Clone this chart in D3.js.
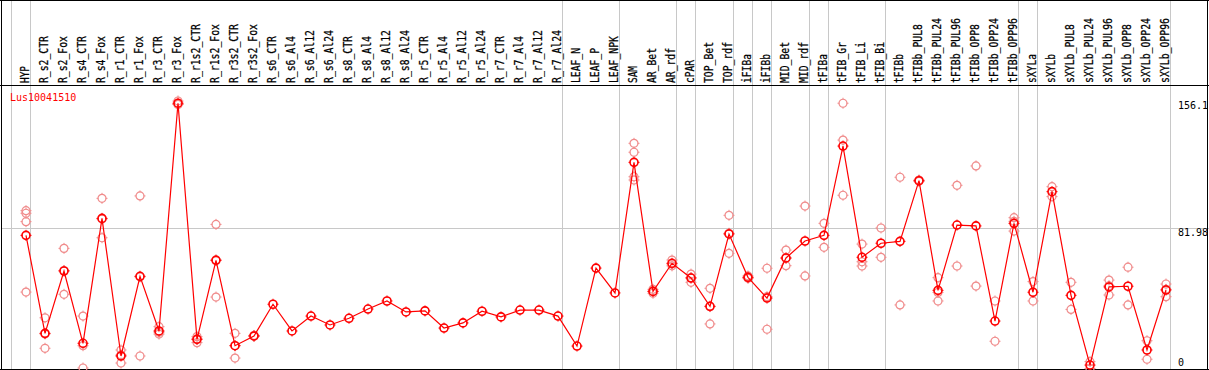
<!DOCTYPE html>
<html>
<head>
<meta charset="utf-8">
<script src="https://cdn.jsdelivr.net/npm/d3@7"></script>
<style>
  html, body { margin: 0; padding: 0; background: #fff; }
  svg { display: block; }
  text { font-family: "DejaVu Sans Mono", monospace; }
</style>
</head>
<body>
<div id="chart"></div>
<script>
const width = 1209;
const height = 370;

const geneName = "Lus10041510";

const categories = [
    "HYP", "R_s2_CTR", "R_s2_Fox", "R_s4_CTR", "R_s4_Fox", "R_r1_CTR", "R_r1_Fox", "R_r3_CTR", "R_r3_Fox",
    "R_r1s2_CTR", "R_r1s2_Fox", "R_r3s2_CTR", "R_r3s2_Fox", "R_s6_CTR", "R_s6_Al4", "R_s6_Al12", "R_s6_Al24",
    "R_s8_CTR", "R_s8_Al4", "R_s8_Al12", "R_s8_Al24", "R_r5_CTR", "R_r5_Al4", "R_r5_Al12", "R_r5_Al24",
    "R_r7_CTR", "R_r7_Al4", "R_r7_Al12", "R_r7_Al24", "LEAF_N", "LEAF_P", "LEAF_NPK", "SAM", "AR_Bet", "AR_rdf",
    "cPAR", "TOP_Bet", "TOP_rdf", "iFIBa", "iFIBb", "MID_Bet", "MID_rdf", "tFIBa", "tFIB_Gr", "tFIB_Li", "tFIB_Bi",
    "tFIBb", "tFIBb_PUL8", "tFIBb_PUL24", "tFIBb_PUL96", "tFIBb_OPP8", "tFIBb_OPP24", "tFIBb_OPP96",
    "sXYLa", "sXYLb", "sXYLb_PUL8", "sXYLb_PUL24", "sXYLb_PUL96", "sXYLb_OPP8", "sXYLb_OPP24", "sXYLb_OPP96"
];

// number of columns in each tissue group (grey separators between them)
const groupSizes = [1, 28, 3, 3, 1, 2, 1, 1, 2, 1, 3, 7, 1, 7];

const means = [
    77.7, 20.5, 56.9, 14.7, 87.6, 7.3, 53.8, 21.9, 154.8,
    17.0, 63.1, 13.3, 19.0, 37.5, 21.9, 30.6, 25.4,
    29.3, 34.7, 39.4, 33.0, 33.6, 23.6, 26.6, 33.4,
    30.1, 34.1, 34.1, 30.6, 13.1, 58.6, 44.1, 120.3, 45.0, 61.4,
    52.8, 36.3, 78.5, 53.2, 41.1, 64.5, 74.4, 77.7, 129.8, 64.9, 73.1,
    74.2, 109.6, 45.6, 83.7, 83.2, 27.7, 84.7,
    44.5, 103.2, 42.7, 2.0, 47.6, 48.0, 10.8, 45.8
];

const replicates = [
    [92.1, 90.6, 85.7, 44.6], [29.6, 11.8, 20.2], [70.1, 43.3, 57.2], [30.6, 0.3, 13.3], [99.3, 76.3, 87.3],
    [10.8, 3.2, 7.9], [100.7, 7.3, 53.5], [24.4, 20.1, 21.2], [156.1, 154.2, 154.1],
    [18.6, 15.1, 17.3], [84.1, 41.7, 63.4], [20.5, 6.1, 13.4], [18.9, 19.3, 18.8], [], [], [], [],
    [], [], [], [], [], [], [], [],
    [], [], [], [], [], [], [], [131.4, 126.2, 111.9, 110.0], [43.9, 46.2, 45.0], [63.3, 61.0, 59.9],
    [55.1, 50.3, 53.0], [46.8, 26.0, 36.1], [89.4, 67.2, 78.9], [54.0, 52.6, 53.0], [58.5, 22.9, 41.9],
    [69.1, 60.0, 64.4], [94.8, 54.0], [84.7, 70.7], [154.8, 133.3, 101.1], [72.6, 59.8, 62.3], [82.0, 64.9],
    [111.6, 37.1], [110.0, 109.2], [53.0, 39.4, 44.4], [106.9, 59.8], [118.2, 48.1], [39.4, 15.9], [88.0, 85.9, 80.2],
    [50.7, 39.4], [106.1, 100.3], [50.3, 34.5], [4.0, 0.0], [51.6, 42.9, 48.3], [59.1, 37.1], [16.2, 5.4], [49.3, 41.9, 46.2]
];

const tickValues = [0, 81.98, 156.1];
const tickLabels = ["0", "81.98", "156.1"];

const lineColor = "#ff0000";
const repColor = "#f08c8c";
const gridColor = "#c8c8c8";

const plotTop = 85;
const plotBottom = 369;
const plotRight = 1170;

let svg = d3.select("#chart").append("svg")
    .attr("width", width)
    .attr("height", height);

let x = d3.scaleBand()
    .domain(categories)
    .range([11, plotRight])
    .padding(0);

// point sits towards the right of each column
function px(c) { return x(c) + 15; }

let y = d3.scaleLinear()
    .domain([0, 156.1])
    .range([368.5, 101]);

// grey separators between groups
let bounds = [0];
groupSizes.forEach(n => bounds.push(bounds[bounds.length - 1] + n));

svg.append("g").selectAll("line")
    .data(bounds)
    .enter().append("line")
    .attr("x1", i => 11.5 + i * x.bandwidth())
    .attr("x2", i => 11.5 + i * x.bandwidth())
    .attr("y1", 0)
    .attr("y2", plotBottom)
    .attr("stroke", gridColor)
    .attr("stroke-width", 1);

// horizontal grid at intermediate tick
svg.append("g").selectAll("line")
    .data(tickValues.filter(v => v > 0 && v < 156.1))
    .enter().append("line")
    .attr("x1", 1)
    .attr("x2", width)
    .attr("y1", v => Math.round(y(v)) + 0.5)
    .attr("y2", v => Math.round(y(v)) + 0.5)
    .attr("stroke", gridColor)
    .attr("stroke-width", 1);

// frame
svg.append("line").attr("x1", 0).attr("x2", width).attr("y1", 0.5).attr("y2", 0.5).attr("stroke", "#000");
svg.append("line").attr("x1", 0).attr("x2", width).attr("y1", plotTop + 0.5).attr("y2", plotTop + 0.5).attr("stroke", "#000");
svg.append("line").attr("x1", 0).attr("x2", width).attr("y1", plotBottom + 0.5).attr("y2", plotBottom + 0.5).attr("stroke", "#000");
svg.append("line").attr("x1", 1.5).attr("x2", 1.5).attr("y1", 0).attr("y2", height).attr("stroke", "#000");
svg.append("line").attr("x1", 1207.5).attr("x2", 1207.5).attr("y1", 0).attr("y2", height).attr("stroke", "#000");

// column labels
svg.append("g").selectAll("text")
    .data(categories)
    .enter().append("text")
    .attr("transform", c => "translate(" + (px(c) + 3) + "," + 83 + ") rotate(-90)")
    .attr("font-size", 12)
    .attr("textLength", c => c.length * 6 - 1)
    .attr("lengthAdjust", "spacingAndGlyphs")
    .attr("fill", "#000")
    .attr("stroke", "#000")
    .attr("stroke-width", 0.25)
    .text(c => c);

// right axis labels
svg.append("g").selectAll("text")
    .data(tickValues)
    .enter().append("text")
    .attr("x", 1178)
    .attr("y", (v, i) => v === 0 ? y(v) - 3 : y(v) + 8)
    .attr("font-size", 10)
    .attr("fill", "#000")
    .text((v, i) => tickLabels[i]);

// gene name
svg.append("text")
    .attr("x", 10)
    .attr("y", 101)
    .attr("font-size", 10)
    .attr("fill", lineColor)
    .text(geneName);

// marker: circle with little ticks at the four sides
function marker(sel, color, width) {
    sel.append("circle")
        .attr("r", 4)
        .attr("fill", "none")
        .attr("stroke", color)
        .attr("stroke-width", width);
    sel.append("path")
        .attr("d", "M0,-5.5V-3.5M0,3.5V5.5M-5.5,0H-3.5M3.5,0H5.5")
        .attr("stroke", color)
        .attr("stroke-width", 1);
}

// replicate points
let repData = [];
categories.forEach((c, i) => {
    replicates[i].forEach(v => repData.push({ cat: c, value: v }));
});

svg.append("g").selectAll("g")
    .data(repData)
    .enter().append("g")
    .attr("transform", d => "translate(" + px(d.cat) + "," + y(d.value) + ")")
    .call(marker, repColor, 1.2);

// mean line
let meanData = categories.map((c, i) => ({ cat: c, value: means[i] }));

let line = d3.line()
    .x(d => px(d.cat))
    .y(d => y(d.value));

svg.append("path")
    .datum(meanData)
    .attr("d", line)
    .attr("fill", "none")
    .attr("stroke", lineColor)
    .attr("stroke-width", 1.2);

svg.append("g").selectAll("g")
    .data(meanData)
    .enter().append("g")
    .attr("transform", d => "translate(" + px(d.cat) + "," + y(d.value) + ")")
    .call(marker, lineColor, 1.6);
</script>
</body>
</html>
